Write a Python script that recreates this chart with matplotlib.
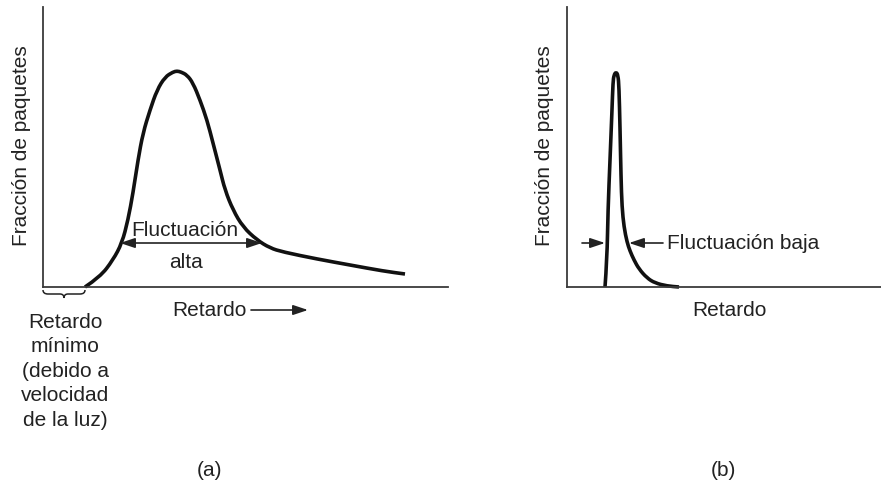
import numpy as np
import matplotlib
matplotlib.use("Agg")
import matplotlib.pyplot as plt
from matplotlib.path import Path
from matplotlib.patches import PathPatch

plt.rcParams['font.family'] = ['Liberation Sans', 'DejaVu Sans']

# curva (a): retardo vs fraccion de paquetes (unidades)
retardo_a = [42, 57, 70, 79, 85, 90, 95, 100, 107, 114, 122, 130, 134, 138, 144, 150,
             157, 164, 170, 177, 182, 190, 200, 214, 227, 240, 274, 307, 340, 362]
fraccion_a = [0, 10, 27, 44, 67, 94, 127, 154, 177, 197, 210, 215, 216, 215, 212, 204,
              187, 167, 144, 117, 97, 77, 60, 47, 39, 35, 28, 22, 16, 13]

# curva (b)
retardo_b = [38, 40, 41, 43, 45, 46, 47, 49, 51, 52, 53, 54, 55, 57, 60, 63, 67, 72, 80, 88, 100, 112]
fraccion_b = [0, 27, 77, 127, 177, 205, 212, 215, 212, 200, 160, 110, 80, 60, 45, 36, 27, 18, 9, 4, 1, 0]

ylabel = 'Fracción de paquetes'
xlabel = 'Retardo'
min_delay_lines = ['Retardo', 'mínimo', '(debido a', 'velocidad', 'de la luz)']

W, H = 881, 486
fig = plt.figure(figsize=(W / 100, H / 100), dpi=100)


def panel(left, right, bottom=287, top=7):
    ax = fig.add_axes([left / W, 1 - bottom / H, (right - left) / W, (bottom - top) / H])
    ax.set_xlim(0, right - left)
    ax.set_ylim(0, bottom - top)
    for s in ['top', 'right']:
        ax.spines[s].set_visible(False)
    for s in ['left', 'bottom']:
        ax.spines[s].set_linewidth(1.3)
        ax.spines[s].set_color('#3a3a3a')
    ax.set_xticks([])
    ax.set_yticks([])
    ax.patch.set_alpha(0)
    return ax


def smooth_curve(ax, xs, ys):
    # trazo suave: los puntos leidos actuan como vertices de control
    pts = list(zip(xs, ys))
    verts = [pts[0]]
    codes = [Path.MOVETO]
    for i in range(1, len(pts) - 1):
        mid = ((pts[i][0] + pts[i + 1][0]) / 2, (pts[i][1] + pts[i + 1][1]) / 2)
        verts += [pts[i], mid]
        codes += [Path.CURVE3, Path.CURVE3]
    verts.append(pts[-1])
    codes.append(Path.LINETO)
    ax.add_patch(PathPatch(Path(verts, codes), fill=False, lw=2.6, color='#111111',
                           joinstyle='round', capstyle='butt', clip_on=False))


ax_a = panel(43, 448)
ax_b = panel(567, 881)

smooth_curve(ax_a, retardo_a, fraccion_a)
smooth_curve(ax_b, retardo_b, fraccion_b)

fs = 15
arrow = dict(arrowstyle='-|>,head_length=0.9,head_width=0.3',
             color='#222222', lw=1.2, shrinkA=0, shrinkB=0)

# (a) fluctuacion alta
ax_a.annotate('', xy=(77, 44), xytext=(219, 44),
              arrowprops=dict(arrow, arrowstyle='<|-|>,head_length=0.9,head_width=0.3'))
ax_a.text(142, 57, 'Fluctuación', fontsize=fs, ha='center', va='center', color='#222222')
ax_a.text(143, 25, 'alta', fontsize=fs, ha='center', va='center', color='#222222')

# (b) fluctuacion baja
ax_b.annotate('', xy=(38, 44), xytext=(15, 44), arrowprops=arrow)
ax_b.annotate('', xy=(62, 44), xytext=(96, 44), arrowprops=arrow)
ax_b.text(100, 44, 'Fluctuación baja', fontsize=fs, ha='left', va='center', color='#222222')

# capa en pixeles para los rotulos exteriores
ov = fig.add_axes([0, 0, 1, 1])
ov.set_xlim(0, W)
ov.set_ylim(H, 0)
ov.axis('off')
ov.patch.set_alpha(0)

ov.text(22, 146, ylabel, fontsize=fs, rotation=90, ha='center', va='center', color='#222222')
ov.text(544, 146, ylabel, fontsize=fs, rotation=90, ha='center', va='center', color='#222222')

ov.text(172, 316, xlabel, fontsize=fs, ha='left', va='baseline', color='#222222')
ov.annotate('', xy=(308, 310), xytext=(251, 310), arrowprops=arrow)
ov.text(729, 316, xlabel, fontsize=fs, ha='center', va='baseline', color='#222222')

# llave del retardo minimo
brace = Path([(43, 290), (43, 294), (48, 294), (60, 294), (64, 294), (64, 298),
              (64, 294), (68, 294), (80, 294), (85, 294), (85, 290)],
             [Path.MOVETO, Path.CURVE3, Path.CURVE3, Path.LINETO, Path.CURVE3, Path.CURVE3,
              Path.CURVE3, Path.CURVE3, Path.LINETO, Path.CURVE3, Path.CURVE3])
ov.add_patch(PathPatch(brace, fill=False, lw=1.1, color='#222222'))

for i, line in enumerate(min_delay_lines):
    ov.text(65, 328 + i * 24.4, line, fontsize=fs, ha='center', va='baseline', color='#222222')

ov.text(210, 476, '(a)', fontsize=fs, ha='center', va='baseline', color='#222222')
ov.text(723, 476, '(b)', fontsize=fs, ha='center', va='baseline', color='#222222')

fig.savefig('out.png', dpi=100)
